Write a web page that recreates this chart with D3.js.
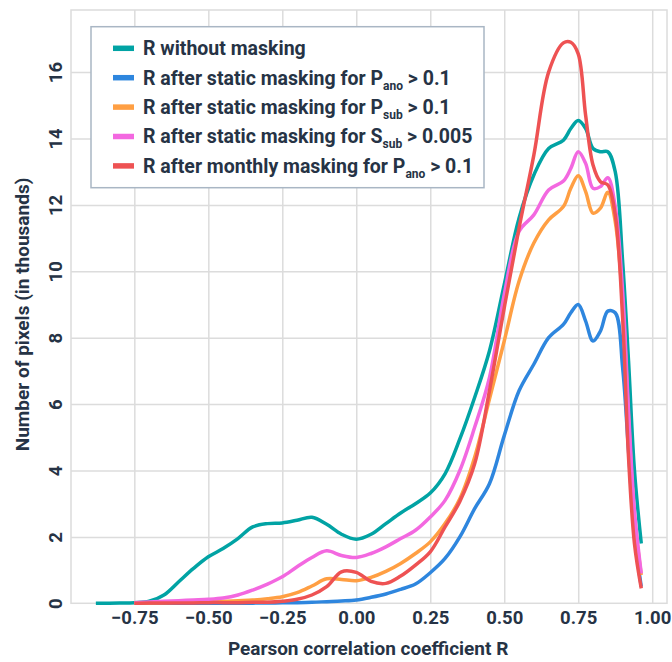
<!DOCTYPE html>
<html>
<head>
<meta charset="utf-8">
<script src="https://cdn.jsdelivr.net/npm/d3@7"></script>
<style>
  body { margin: 0; background: #fff; }
  text { font-family: Roboto, "Open Sans", sans-serif; }
</style>
</head>
<body>
<div id="chart"></div>
<script>
// DATA
const rGrid = [-0.88, -0.80, -0.75, -0.70, -0.65, -0.60, -0.55, -0.50, -0.45, -0.40,
  -0.35, -0.30, -0.25, -0.20, -0.15, -0.10, -0.05, 0.00, 0.05, 0.10,
  0.15, 0.20, 0.25, 0.30, 0.35, 0.40, 0.45, 0.50, 0.55, 0.60,
  0.65, 0.70, 0.725, 0.75, 0.775, 0.80, 0.825, 0.85, 0.875, 0.90,
  0.92, 0.94, 0.963];

const noMask = [0, 0.01, 0.02, 0.06, 0.25, 0.65, 1.05, 1.4, 1.65, 1.95,
  2.3, 2.4, 2.42, 2.5, 2.59, 2.38, 2.08, 1.93, 2.08, 2.4,
  2.72, 3.0, 3.32, 3.9, 4.95, 6.2, 7.6, 9.6, 11.6, 12.9,
  13.7, 13.95, 14.3, 14.54, 14.3, 13.7, 13.6, 13.6, 13.0, 10.3,
  7.3, 4.0, 1.8];

const staticPano = [null, null, 0, 0, 0, 0, 0, 0, 0, 0,
  0.005, 0.01, 0.015, 0.02, 0.03, 0.05, 0.07, 0.1, 0.18, 0.28,
  0.42, 0.58, 0.92, 1.35, 2.0, 2.85, 3.6, 5.05, 6.4, 7.2,
  8.0, 8.4, 8.75, 9.0, 8.5, 7.9, 8.2, 8.8, 8.75, 7.1,
  4.6, 2.1, 0.5];

const staticPsub = [null, null, 0, 0.01, 0.02, 0.03, 0.04, 0.05, 0.06, 0.08,
  0.1, 0.14, 0.2, 0.32, 0.52, 0.74, 0.72, 0.68, 0.78, 0.96,
  1.2, 1.5, 1.85, 2.4, 3.15, 4.4, 6.15, 7.9, 9.7, 10.85,
  11.55, 11.95, 12.5, 12.88, 12.4, 11.75, 11.9, 12.38, 11.5, 9.1,
  5.6, 2.6, 0.85];

const staticSsub = [null, null, 0.02, 0.04, 0.06, 0.08, 0.1, 0.12, 0.16, 0.25,
  0.4, 0.58, 0.8, 1.1, 1.38, 1.58, 1.44, 1.38, 1.5, 1.7,
  1.95, 2.2, 2.6, 3.1, 4.0, 5.3, 6.8, 9.3, 11.2, 11.7,
  12.45, 12.72, 13.1, 13.6, 13.25, 12.5, 12.55, 12.82, 11.95, 9.4,
  5.8, 2.8, 0.9];

const monthlyPano = [null, null, 0, 0.01, 0.01, 0.01, 0.01, 0.02, 0.02, 0.02,
  0.03, 0.03, 0.06, 0.12, 0.25, 0.5, 0.95, 0.93, 0.66, 0.6,
  0.82, 1.15, 1.55, 2.3, 3.07, 4.2, 6.4, 8.9, 11.3, 13.5,
  16.0, 16.88, 16.9, 16.55, 14.7, 13.2, 12.7, 12.6, 11.7, 8.6,
  4.4, 1.8, 0.45];

const seriesValues = [noMask, staticPano, staticPsub, staticSsub, monthlyPano];
const seriesColors = ["#01a3a4", "#2e86de", "#ff9f43", "#f368e0", "#ee5253"];
// legend label pieces: [main text, subscript, rest]
const legendLabels = [
  ["R without masking", "", ""],
  ["R after static masking for P", "ano", " > 0.1"],
  ["R after static masking for P", "sub", " > 0.1"],
  ["R after static masking for S", "sub", " > 0.005"],
  ["R after monthly masking for P", "ano", " > 0.1"]
];

const xTicks = [-0.75, -0.5, -0.25, 0, 0.25, 0.5, 0.75, 1.0];
const yTicks = [0, 2, 4, 6, 8, 10, 12, 14, 16];

// SVG
const W = 672, H = 662;
const margin = {top: 10, right: 5, bottom: 58.7, left: 71};
const width = W - margin.left - margin.right;
const height = H - margin.top - margin.bottom;
const textColor = "#263345";
const gridColor = "#dcdcdc";

const svg = d3.select("#chart").append("svg")
  .attr("width", W).attr("height", H);
const g = svg.append("g").attr("transform", `translate(${margin.left},${margin.top})`);

// SCALES
const xs = d3.scaleLinear().domain([-0.964, 1.05]).range([0, width]);
const ys = d3.scaleLinear().domain([0, 17.87]).range([height, 0]);

// grid
g.append("g")
  .attr("transform", `translate(0,${height})`)
  .call(d3.axisBottom(xs).tickValues(xTicks).tickSize(-height).tickFormat(""))
  .call(a => a.select(".domain").remove())
  .selectAll("line").attr("stroke", gridColor).attr("stroke-width", 1.5);

g.append("g")
  .call(d3.axisLeft(ys).tickValues(yTicks.slice(1)).tickSize(-width).tickFormat(""))
  .call(a => a.select(".domain").remove())
  .selectAll("line").attr("stroke", gridColor).attr("stroke-width", 1.5);

// frame
g.append("rect")
  .attr("width", width).attr("height", height)
  .attr("fill", "none").attr("stroke", gridColor).attr("stroke-width", 1.5);

// tick labels
const xAxis = g.append("g")
  .attr("transform", `translate(0,${height})`)
  .call(d3.axisBottom(xs).tickValues(xTicks).tickSize(0).tickPadding(8).tickFormat(d3.format(".2f")));
xAxis.select(".domain").remove();
xAxis.selectAll("text")
  .attr("fill", textColor).style("font-size", "18.5px").style("font-weight", 700);

const yAxis = g.append("g")
  .call(d3.axisLeft(ys).tickValues(yTicks).tickSize(0).tickFormat(d3.format("d")));
yAxis.select(".domain").remove();
yAxis.selectAll("text")
  .attr("x", null).attr("dy", null)
  .attr("text-anchor", "middle")
  .attr("transform", "translate(-9,0) rotate(-90)")
  .attr("fill", textColor).style("font-size", "18.5px").style("font-weight", 700);

// axis titles
svg.append("text")
  .attr("x", margin.left + xs(0.04)).attr("y", 655)
  .attr("text-anchor", "middle")
  .attr("fill", textColor).style("font-size", "19px").style("font-weight", 700)
  .text("Pearson correlation coefficient R");

svg.append("text")
  .attr("transform", `translate(29,${margin.top + ys(8.7)}) rotate(-90)`)
  .attr("text-anchor", "middle")
  .attr("fill", textColor).style("font-size", "19px").style("font-weight", 700)
  .text("Number of pixels (in thousands)");

// LINES
const line = d3.line()
  .defined(d => d[1] !== null)
  .x(d => xs(d[0]))
  .y(d => ys(d[1]))
  .curve(d3.curveCatmullRom.alpha(0.5));

g.selectAll(".series")
  .data(seriesValues)
  .enter()
  .append("path")
  .attr("class", "series")
  .attr("fill", "none")
  .attr("stroke", (d, i) => seriesColors[i])
  .attr("stroke-width", 3.5)
  .attr("stroke-linejoin", "round")
  .attr("d", vals => line(vals.map((v, i) => [rGrid[i], v])));

// LEGEND
const lg = svg.append("g").attr("transform", "translate(91,26.7)");
lg.append("rect")
  .attr("width", 393).attr("height", 161)
  .attr("fill", "#fff").attr("stroke", "#a9b6c4").attr("stroke-width", 1.5);

const rows = lg.selectAll("g.row")
  .data(legendLabels)
  .enter()
  .append("g")
  .attr("class", "row")
  .attr("transform", (d, i) => `translate(0,${21.6 + i * 29.4})`);

rows.append("line")
  .attr("x1", 22).attr("x2", 43)
  .attr("stroke", (d, i) => seriesColors[i])
  .attr("stroke-width", 5.5);

const lt = rows.append("text")
  .attr("x", 52).attr("dy", "0.35em")
  .attr("fill", textColor).style("font-size", "19.5px").style("font-weight", 700);
lt.append("tspan").text(d => d[0]);
lt.append("tspan").attr("dy", 5).style("font-size", "12px").text(d => d[1]);
lt.append("tspan").attr("dy", d => d[1] ? -5 : 0).text(d => d[2]);
</script>
</body>
</html>
